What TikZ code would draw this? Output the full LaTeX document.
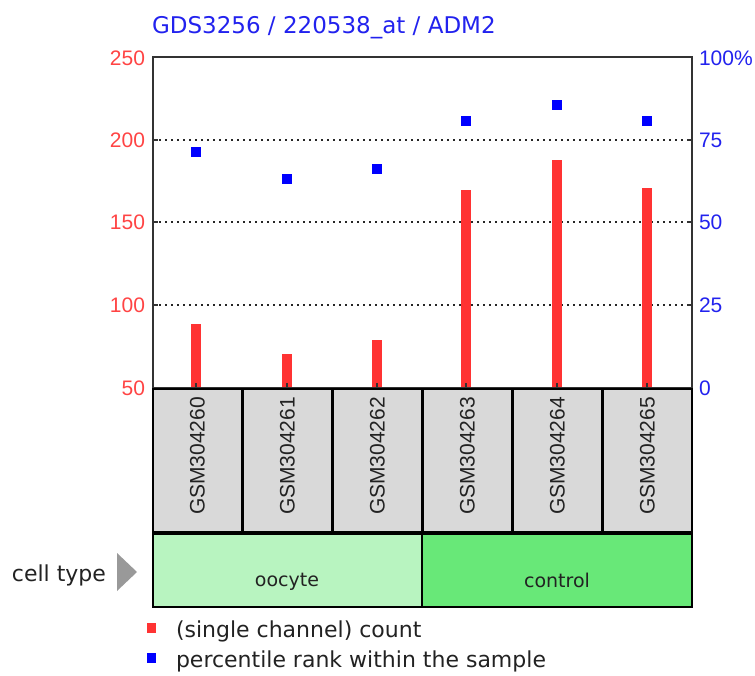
\documentclass[tikz,border=0pt]{standalone}
\usepackage{fontspec}
\setmainfont{DejaVu Sans}
\newfontfamily\numfont{Liberation Sans}
\definecolor{barred}{HTML}{FF3333}
\definecolor{ptblue}{HTML}{0000FF}
\definecolor{titleblue}{HTML}{2222EE}
\definecolor{axred}{HTML}{FF4444}
\definecolor{boxgray}{HTML}{D9D9D9}
\definecolor{oocytegreen}{HTML}{B8F4C0}
\definecolor{controlgreen}{HTML}{68E878}
\definecolor{framegray}{HTML}{333333}
\definecolor{txtgray}{HTML}{222222}
\begin{document}
\begin{tikzpicture}[x=1pt,y=-1pt,
  plain/.style={inner sep=0pt, outer sep=0pt},
  lnum/.style={plain, anchor=base east, text=axred, font=\numfont\fontsize{21}{24}\selectfont},
  rnum/.style={plain, anchor=base west, text=titleblue, font=\numfont\fontsize{21}{24}\selectfont},
  bar/.style={fill=barred, draw=none},
  pct/.style={fill=ptblue, draw=none},
  gridline/.style={line width=1.8pt, dash pattern=on 1.8pt off 4.2pt, black!85},
  samplebox/.style={draw=black, line width=1.5pt, fill=boxgray},
  samplelabel/.style={plain, rotate=90, text=txtgray, font=\numfont\fontsize{21}{24}\selectfont},
  grouplabel/.style={plain, anchor=base, text=txtgray, font=\fontsize{19}{22}\selectfont},
  legendtext/.style={plain, anchor=base west, text=txtgray, font=\fontsize{22}{26}\selectfont}
]
\useasboundingbox (0,0) rectangle (755,675);

% title
\node[plain, anchor=base west, text=titleblue, font=\fontsize{23}{27}\selectfont] (title) at (152,33) {GDS3256 / 220538\_at / ADM2};

% grid lines
\draw[gridline] (153,140) -- (692,140);
\draw[gridline] (153,222) -- (692,222);
\draw[gridline] (153,305) -- (692,305);

% bars (count)
\fill[bar] (191,324) rectangle (201,388);
\fill[bar] (282,354) rectangle (292,388);
\fill[bar] (372,340) rectangle (382,388);
\fill[bar] (461,190) rectangle (471,388);
\fill[bar] (552,160) rectangle (562,388);
\fill[bar] (642,188) rectangle (652,388);
\foreach \x in {196,287,377,466,557,647} \draw[line width=1.5pt, framegray] (\x,383) -- (\x,388);

% percentile points
\fill[pct] (191,147) rectangle (201,157);
\fill[pct] (282,174) rectangle (292,184);
\fill[pct] (372,164) rectangle (382,174);
\fill[pct] (461,116) rectangle (471,126);
\fill[pct] (552,100) rectangle (562,110);
\fill[pct] (642,116) rectangle (652,126);

% frame
\draw[framegray, line width=2pt] (153,57) rectangle (692,388);
\foreach \y in {140,222,305} {
  \draw[framegray, line width=1.5pt] (153,\y) -- (158,\y);
  \draw[framegray, line width=1.5pt] (687,\y) -- (692,\y);
}

% left axis labels
\node[lnum] (l250) at (145,65) {250};
\node[lnum] (l200) at (145,147.5) {200};
\node[lnum] (l150) at (145,229.5) {150};
\node[lnum] (l100) at (145,312.5) {100};
\node[lnum] (l50)  at (145,395.5) {50};
% right axis labels
\node[rnum] (r100) at (699,65) {100\%};
\node[rnum] (r75)  at (699,147.5) {75};
\node[rnum] (r50)  at (699,229.5) {50};
\node[rnum] (r25)  at (699,312.5) {25};
\node[rnum] (r0)   at (699,395.5) {0};

% sample boxes
\foreach \i/\n in {0/GSM304260,1/GSM304261,2/GSM304262,3/GSM304263,4/GSM304264,5/GSM304265} {
  \pgfmathsetmacro{\xl}{153+90*\i}
  \pgfmathsetmacro{\xr}{153+90*\i+89}
  \pgfmathsetmacro{\xc}{153+90*\i+44.5}
  \draw[samplebox] (\xl,389) rectangle (\xr,532);
  \node[samplelabel] (s\i) at (\xc,456) {\n};
}

% cell type row
\draw[draw=black, line width=1.5pt, fill=oocytegreen] (153,534) rectangle (422,607);
\draw[draw=black, line width=1.5pt, fill=controlgreen] (422,534) rectangle (692,607);
\node[grouplabel] (oocyte) at (287,586) {oocyte};
\node[grouplabel] (control) at (557,587) {control};

\node[plain, anchor=base west, text=txtgray, font=\fontsize{22}{26}\selectfont] (celltype) at (12,581) {cell type};
\fill[black!40] (117,553) -- (137,572) -- (117,591) -- cycle;

% legend
\fill[barred] (147,623) rectangle (156,633);
\node[legendtext] (leg1) at (176,637) {(single channel) count};
\fill[ptblue] (147,653) rectangle (156,663);
\node[legendtext] (leg2) at (176,667) {percentile rank within the sample};
\end{tikzpicture}
\end{document}
